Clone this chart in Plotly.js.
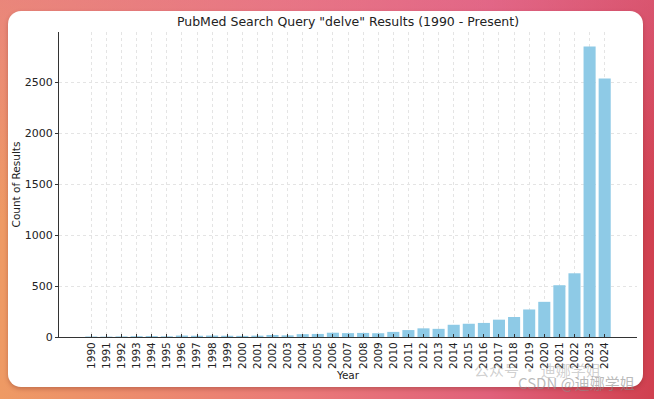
<!DOCTYPE html>
<html>
<head>
<meta charset="utf-8">
<script src="https://cdn.plot.ly/plotly-3.0.1.min.js"></script>
<style>
  html, body { margin: 0; padding: 0; }
  body {
    width: 654px; height: 399px; overflow: hidden; position: relative;
    background:
      linear-gradient(to bottom, rgba(228,110,150,0.45) 0%, rgba(228,110,150,0) 55%),
      linear-gradient(to right, #ee9a64 0%, #ea7a78 45%, #e0607a 75%, #d0404f 100%);
  }
  #card {
    position: absolute; left: 8px; top: 11px; width: 635px; height: 376px;
    background: #ffffff; border-radius: 13px;
    box-shadow: 0 2px 4px rgba(120,40,30,0.35);
  }
  #chart { position: absolute; left: 0; top: 0; width: 654px; height: 399px; }
</style>
</head>
<body>
<div id="card"></div>
<div id="chart"></div>
<script>
const years = ["1990","1991","1992","1993","1994","1995","1996","1997","1998","1999",
               "2000","2001","2002","2003","2004","2005","2006","2007","2008","2009",
               "2010","2011","2012","2013","2014","2015","2016","2017","2018","2019",
               "2020","2021","2022","2023","2024"];
const counts = [5, 4, 6, 8, 9, 7, 14, 12, 14, 12,
                11, 13, 20, 16, 28, 30, 42, 38, 40, 37,
                50, 68, 85, 80, 120, 130, 138, 170, 196, 270,
                345, 508, 625, 2850, 2535];
const yTicks = [0, 500, 1000, 1500, 2000, 2500];
const watermarks = ["公众号 · 迪娜学姐", "CSDN @迪娜学姐"];

const font = "DejaVu Sans, sans-serif";

const trace = {
  type: "bar",
  x: years,
  y: counts,
  marker: { color: "#8ecae6", line: { width: 0 } },
  width: 0.8,
  hoverinfo: "x+y"
};

const layout = {
  width: 654, height: 399,
  paper_bgcolor: "rgba(0,0,0,0)",
  plot_bgcolor: "rgba(0,0,0,0)",
  margin: { l: 59, r: 17, t: 32, b: 62 },
  showlegend: false,
  title: {
    text: 'PubMed Search Query "delve" Results (1990 - Present)',
    font: { family: font, size: 12.5, color: "#222" },
    x: 0.5, xref: "paper", y: 0.947, yref: "container", yanchor: "middle"
  },
  xaxis: {
    type: "category",
    range: [-2.14, 36.14],
    tickangle: -90,
    tickfont: { family: font, size: 10.5, color: "#222" },
    showgrid: true, gridcolor: "#e4e4e4", griddash: "dot", gridwidth: 1,
    showline: true, linecolor: "#333", linewidth: 1,
    ticks: "inside", ticklen: 3, tickcolor: "#333",
    zeroline: false,
    title: { text: "Year", font: { family: font, size: 10.5, color: "#222" }, standoff: 3 }
  },
  yaxis: {
    range: [0, 2992],
    tickvals: yTicks,
    tickfont: { family: font, size: 11, color: "#222" },
    showgrid: true, gridcolor: "#e4e4e4", griddash: "dot", gridwidth: 1,
    showline: true, linecolor: "#333", linewidth: 1,
    ticks: "outside", ticklen: 3, tickcolor: "#333",
    zeroline: false,
    title: { text: "Count of Results", font: { family: font, size: 10.5, color: "#222" }, standoff: 2 }
  },
  annotations: [
    { text: watermarks[0], xref: "paper", yref: "paper", x: 0.715, y: -0.105,
      xanchor: "left", yanchor: "middle", showarrow: false,
      font: { family: "Noto Sans CJK SC, sans-serif", size: 15, color: "rgba(150,150,150,0.45)" } },
    { text: watermarks[1], xref: "paper", yref: "paper", x: 1.0, y: -0.148,
      xanchor: "right", yanchor: "middle", showarrow: false,
      font: { family: "Noto Sans CJK SC, sans-serif", size: 15, color: "rgba(140,140,140,0.6)" } }
  ]
};

Plotly.newPlot("chart", [trace], layout, { displayModeBar: false, staticPlot: true });
</script>
</body>
</html>
